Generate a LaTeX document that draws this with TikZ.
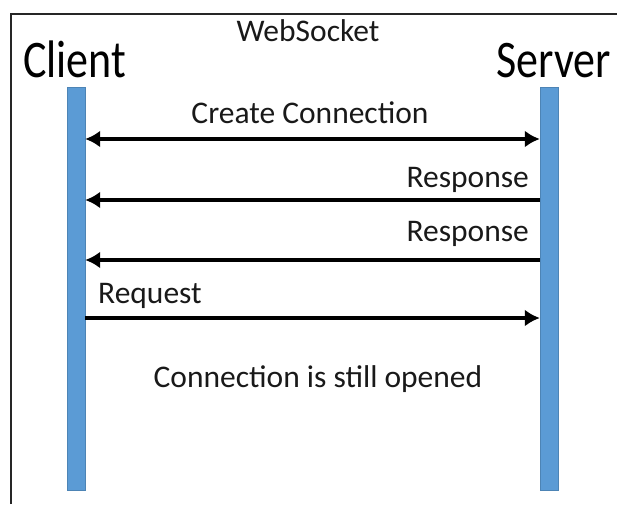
\documentclass[tikz,border=0pt]{standalone}
\usepackage{fontspec}
\setmainfont{Carlito}
\usetikzlibrary{arrows.meta}
\definecolor{lifeblue}{HTML}{5B9BD5}
\newcommand{\tallname}[1]{\scalebox{1}[1.2]{#1}}

\begin{document}
\begin{tikzpicture}[
  x=1pt, y=-1pt,
  frame/.style={draw=black!85, line width=2.5pt},
  lifeline/.style={draw=lifeblue!85!black, line width=0.4pt, fill=lifeblue,
                   minimum width=18pt, minimum height=403pt, inner sep=0pt},
  party/.style={font=\fontsize{44}{50}\selectfont, inner sep=0pt},
  lbl/.style={font=\fontsize{31.5}{38}\selectfont, inner sep=0pt, text=black!90},
  msg/.style={line width=4.5pt, -{Latex[length=15pt, width=17pt]}},
  msgboth/.style={line width=4.5pt, {Latex[length=15pt, width=17pt]}-{Latex[length=15pt, width=17pt]}}
]
\useasboundingbox (0,0) rectangle (617,504);
\draw[frame] (11,504) -- (11,14) -- (617,14);

\node[lbl, anchor=base] (title) at (308,41) {WebSocket};
\node[party, anchor=base west] (clientlbl) at (23,77) {\tallname{Client}};
\node[party, anchor=base east] (serverlbl) at (611,77) {\tallname{Server}};

\node[lifeline] (client) at (76,288.5) {};
\node[lifeline] (server) at (549,288.5) {};

% messages
\draw[msgboth] (client.east |- 0,139) -- (server.west |- 0,139);
\node[lbl, anchor=base] (create) at (310,123) {Create Connection};
\draw[msg] (server.west |- 0,200) -- (client.east |- 0,200);
\node[lbl, anchor=base east] (resp1) at (529,187) {Response};
\draw[msg] (server.west |- 0,260) -- (client.east |- 0,260);
\node[lbl, anchor=base east] (resp2) at (529,241) {Response};
\draw[msg] (client.east |- 0,318) -- (server.west |- 0,318);
\node[lbl, anchor=base west] (req) at (98,303) {Request};

\node[lbl, anchor=base] (open) at (318,387) {Connection is still opened};
\end{tikzpicture}
\end{document}
